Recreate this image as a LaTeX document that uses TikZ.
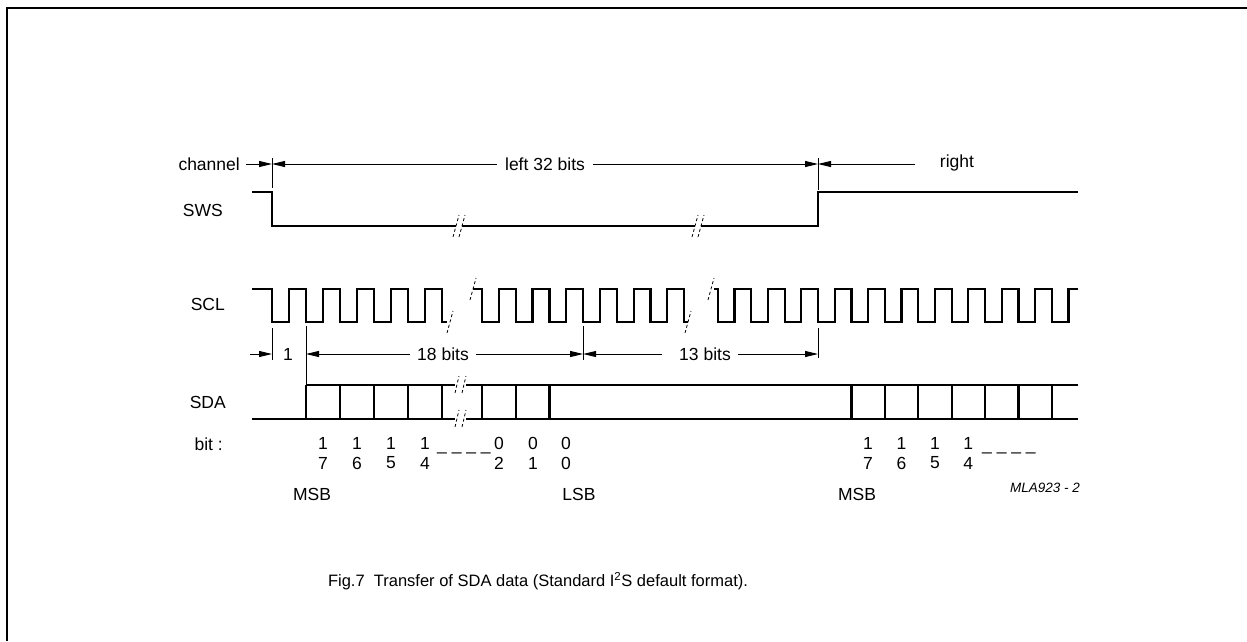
\documentclass[tikz,border=0pt]{standalone}
\usepackage{fontspec}
\setmainfont{Liberation Sans}
\usetikzlibrary{arrows.meta}
\begin{document}
\begin{tikzpicture}[x=1pt,y=-1pt,
  wave/.style={line width=2.2pt, line join=miter},
  dim/.style={line width=0.9pt},
  dimarrow/.style={dim, -{Triangle[length=13pt,width=6pt]}},
  ticker/.style={line width=0.9pt},
  brk/.style={line width=0.8pt, dash pattern=on 3pt off 2.5pt},
  lbl/.style={font=\fontsize{17.5}{20}\selectfont, inner sep=0pt},
  small/.style={font=\fontsize{13.5}{16}\selectfont\itshape, inner sep=0pt},
  captxt/.style={font=\fontsize{16.5}{20}\selectfont, inner sep=0pt},
]
\useasboundingbox (0,0) rectangle (1247,641);
% frame
\draw[line width=2.5pt] (7,641) -- (7,8) -- (1247,8);

% ---------- labels on the left
\node[lbl, anchor=east] (lchan) at (240,164) {channel};
\node[lbl, anchor=east] (lsws) at (223,210) {SWS};
\node[lbl, anchor=east] (lscl) at (225,304) {SCL};
\node[lbl, anchor=east] (lsda) at (226,402) {SDA};
\node[lbl, anchor=east] (lbit) at (223,444) {bit :};

% ---------- channel dimension row
\coordinate (c0) at (272,164);
\coordinate (c1) at (818,164);
\draw[ticker] (272,158) -- (272,188);
\draw[ticker] (818,158) -- (818,190);
\coordinate (ca) at (246,164);
\draw[dimarrow] (ca) -- (c0);
\node[lbl] (left32) at (545,164) {left 32 bits};
\coordinate (cl) at (497,164);
\coordinate (cr) at (593,164);
\draw[dimarrow] (cl) -- (c0);
\draw[dimarrow] (cr) -- (c1);
\coordinate (crr) at (915,164);
\draw[dimarrow] (crr) -- (c1);
\node[lbl] (right) at (957,163) {right};

% ---------- SWS
\draw[wave] (252,192) -- (272,192) -- (272,226) -- (456,226);
\draw[wave] (462,226) -- (695,226);
\draw[wave] (701,226) -- (818,226) -- (818,192) -- (1078,192);
\draw[brk] (453,237) -- (459,215);
\draw[brk] (459,237) -- (465,215);
\draw[brk] (692,237) -- (698,215);
\draw[brk] (698,237) -- (704,215);

% ---------- SCL
\draw[wave] (252,289)
  foreach \k in {0,...,4} { -- ({272+34*\k},289) -- ({272+34*\k},322) -- ({289+34*\k},322) -- ({289+34*\k},289) }
  -- (442,289) -- (442,322) -- (447,322);
\draw[wave] (473,289)
  foreach \k in {0,...,5} { -- ({482+33.7*\k},289) -- ({482+33.7*\k},322) -- ({498.85+33.7*\k},322) -- ({498.85+33.7*\k},289) }
  -- (684.2,289) -- (684.2,322) -- (688,322);
\draw[wave] (714,289)
  foreach \k in {-3,...,7} { -- ({818+33.4*\k},289) -- ({818+33.4*\k},322) -- ({834.7+33.4*\k},322) -- ({834.7+33.4*\k},289) }
  -- (1078,289);
\draw[brk] (447,333) -- (453,311);
\draw[brk] (470,300) -- (476,278);
\draw[brk] (685,333) -- (691,311);
\draw[brk] (708,300) -- (714,278);

% ---------- bit dimension row
\draw[ticker] (272,328) -- (272,360);
\draw[ticker] (306,326) -- (306,385);
\draw[ticker] (583.1,326) -- (583.1,360);
\draw[ticker] (818,328) -- (818,358);
\coordinate (d0) at (272,354);
\coordinate (d1) at (306,354);
\coordinate (d2) at (583.1,354);
\coordinate (d3) at (818,354);
\coordinate (da) at (250,354);
\draw[dimarrow] (da) -- (d0);
\node[lbl] (one) at (288,354) {1};
\coordinate (e1) at (410,354);
\coordinate (e2) at (476,354);
\draw[dimarrow] (e1) -- (d1);
\node[lbl] (b18) at (443,354) {18 bits};
\draw[dimarrow] (e2) -- (d2);
\coordinate (f1) at (662,354);
\coordinate (f2) at (738,354);
\draw[dimarrow] (f1) -- (d2);
\node[lbl] (b13) at (705,354) {13 bits};
\draw[dimarrow] (f2) -- (d3);

% ---------- SDA
\draw[wave] (252,419) -- (455,419);
\draw[wave] (466,419) -- (1078,419);
\draw[wave] (306,385) -- (455,385);
\draw[wave] (466,385) -- (1078,385);
\foreach \x in {306,340,374,408,442,482,515.7,549.4,851.4,884.8,918.2,951.6,985,1018.4,1051.8}
  \draw[wave] (\x,385) -- (\x,419);
\draw[brk] (455,393) -- (459,376);
\draw[brk] (462,393) -- (466,376);
\draw[brk] (455,427) -- (459,410);
\draw[brk] (462,427) -- (466,410);

% ---------- bit numbers
\foreach \x/\d [count=\i] in {323/7,357/6,391/5,425/4} {
  \node[lbl] (la\i) at (\x,443) {1};
  \node[lbl] (lb\i) at (\x,463) {\d};
}
\node[lbl, anchor=base west] (ldash) at (437,450) {\_ \_ \_ \_};
\foreach \x/\d [count=\i] in {499/2,533/1,566/0} {
  \node[lbl] (lc\i) at (\x,443) {0};
  \node[lbl] (ld\i) at (\x,463) {\d};
}
\foreach \x/\d [count=\i] in {868.1/7,901.5/6,934.9/5,968.3/4} {
  \node[lbl] (ra\i) at (\x,443) {1};
  \node[lbl] (rb\i) at (\x,463) {\d};
}
\node[lbl, anchor=base west] (rdash) at (982,450) {\_ \_ \_ \_};

\node[lbl] (msb1) at (312,494) {MSB};
\node[lbl] (lsb) at (579,494) {LSB};
\node[lbl] (msb2) at (857,494) {MSB};
\node[small] (code) at (1045,488) {MLA923 - 2};

% ---------- caption
\node[captxt] (cap) at (538,581) {Fig.7\ \ Transfer of SDA data (Standard I\textsuperscript{2}S default format).};
\end{tikzpicture}
\end{document}
